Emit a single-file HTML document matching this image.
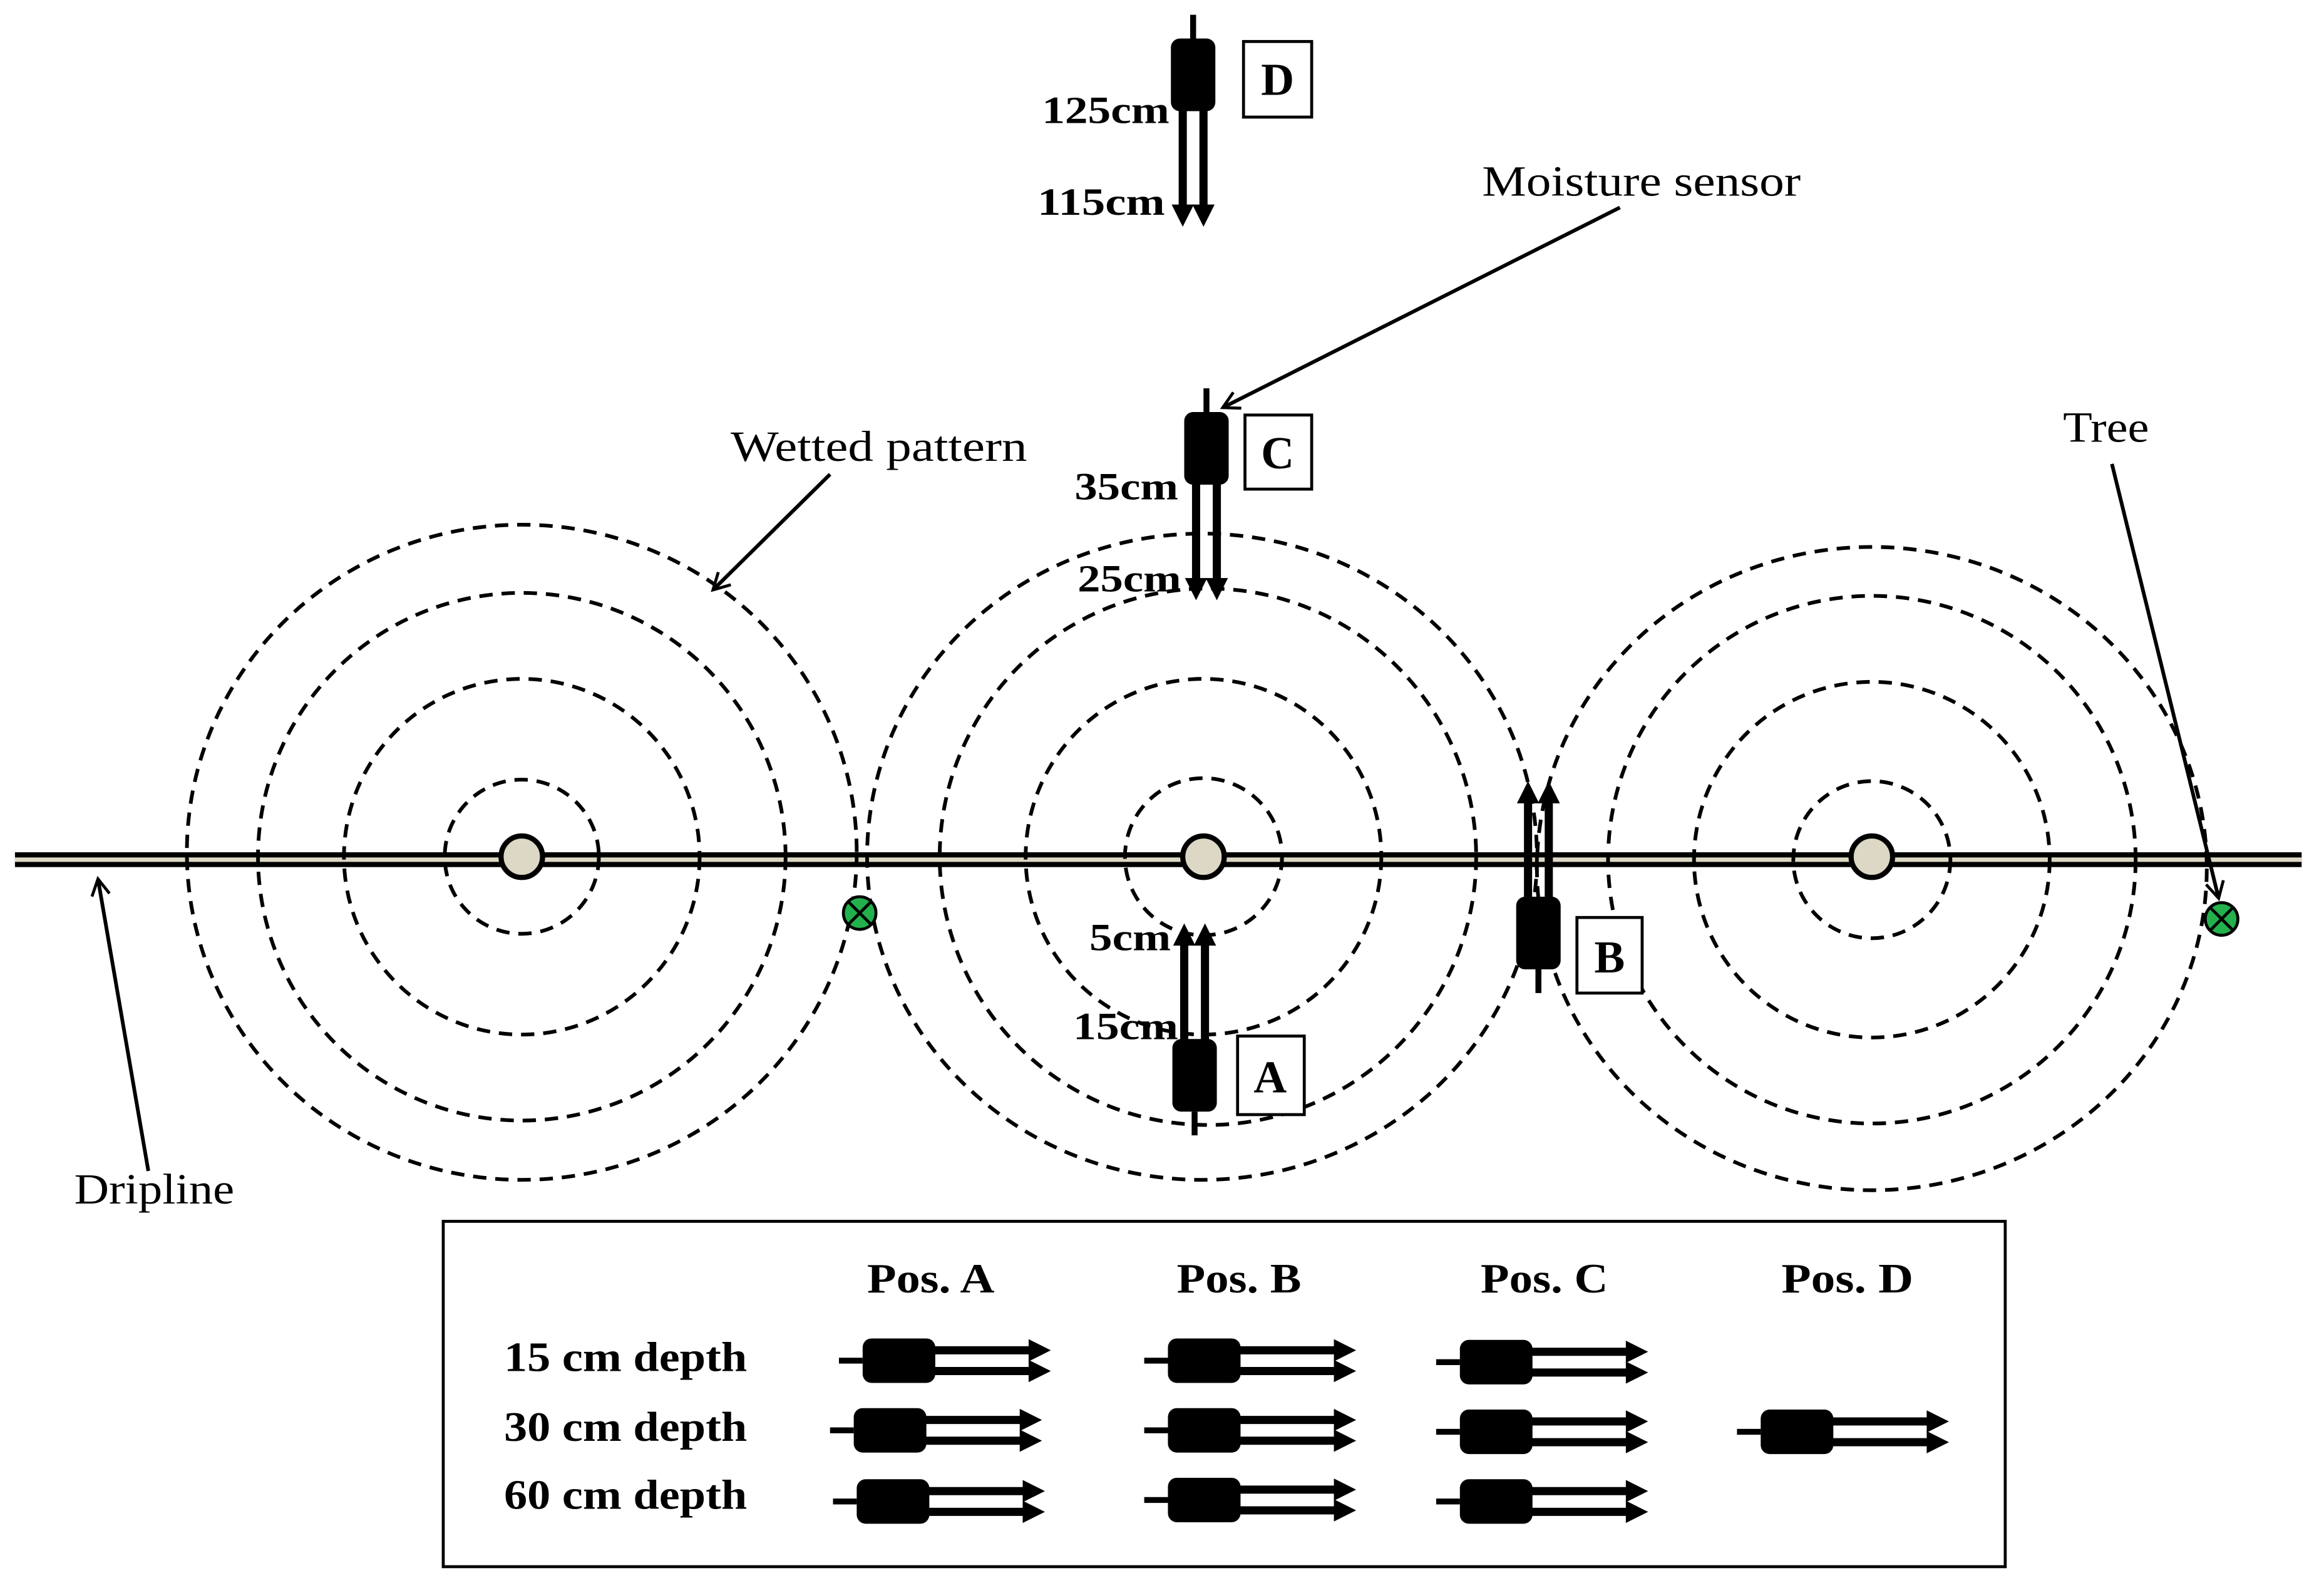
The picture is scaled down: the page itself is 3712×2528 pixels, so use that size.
<!DOCTYPE html>
<html><head><meta charset="utf-8"><style>html,body{margin:0;padding:0;background:#fff}svg{display:block}</style></head><body>
<svg width="3712" height="2528" viewBox="0 0 1568 1068" xmlns="http://www.w3.org/2000/svg" font-family="'Liberation Serif', serif">
<defs>
<g id="s">
<line x1="0" y1="-16" x2="0" y2="0" stroke="#000" stroke-width="4"/>
<rect x="-15" y="0" width="30" height="49" rx="6" fill="#000"/>
<line x1="-7" y1="48" x2="-7" y2="113" stroke="#000" stroke-width="5.5"/>
<line x1="7" y1="48" x2="7" y2="113" stroke="#000" stroke-width="5.5"/>
<polygon points="-14.5,112 0.5,112 -7,127" fill="#000"/>
<polygon points="-0.5,112 14.5,112 7,127" fill="#000"/>
</g>
<marker id="oa" markerWidth="14" markerHeight="14" refX="12" refY="7" orient="auto" markerUnits="userSpaceOnUse"><path d="M1,1 L12,7 L1,13" fill="none" stroke="#000" stroke-width="2"/></marker>
</defs>
<rect width="1568" height="1068" fill="#fff"/>
<rect x="10" y="575" width="1543" height="10" fill="#000"/>
<rect x="10" y="578.5" width="1543" height="3" fill="#ddd8c5"/>
<g fill="none" stroke="#000" stroke-width="2.5" stroke-dasharray="9 6">
<circle cx="352" cy="578" r="52"/><circle cx="352" cy="578" r="120"/><circle cx="352" cy="578" r="178"/><ellipse cx="352" cy="575" rx="226" ry="221"/>
<circle cx="812" cy="578" r="53"/><circle cx="812" cy="578" r="120"/><circle cx="815" cy="578" r="181"/><ellipse cx="811" cy="578" rx="226" ry="218"/>
<circle cx="1263" cy="580" r="53"/><circle cx="1263" cy="580" r="120"/><circle cx="1263" cy="580" r="178"/><ellipse cx="1263" cy="586" rx="226" ry="217"/>
</g>
<g fill="#ddd8c5" stroke="#000" stroke-width="3.5">
<circle cx="352" cy="578" r="14"/><circle cx="812" cy="578" r="14"/><circle cx="1263" cy="578" r="14"/>
</g>
<g stroke="#000" stroke-width="2">
<circle cx="580" cy="616" r="11" fill="#22b14c"/><line x1="572" y1="608" x2="588" y2="624"/><line x1="588" y1="608" x2="572" y2="624"/>
<circle cx="1499" cy="620" r="11" fill="#22b14c"/><line x1="1491" y1="612" x2="1507" y2="628"/><line x1="1507" y1="612" x2="1491" y2="628"/>
</g>
<use href="#s" transform="translate(805,26)"/>
<use href="#s" transform="translate(814,278)"/>
<use href="#s" transform="translate(806,750) rotate(180)"/>
<use href="#s" transform="translate(1038,654) rotate(180)"/>
<g fill="#fff" stroke="#000" stroke-width="2">
<rect x="839" y="28" width="46" height="51"/>
<rect x="840" y="280" width="45" height="50"/>
<rect x="835" y="699" width="45" height="53"/>
<rect x="1064" y="619" width="44" height="51"/>
</g>
<g font-weight="bold" font-size="31" text-anchor="middle" fill="#000">
<text x="862" y="64">D</text><text x="862" y="316">C</text><text x="857" y="737">A</text><text x="1086" y="656">B</text>
</g>
<g font-weight="bold" font-size="26" fill="#000" lengthAdjust="spacingAndGlyphs">
<text x="703" y="83" textLength="86" lengthAdjust="spacingAndGlyphs">125cm</text>
<text x="700" y="145" textLength="86" lengthAdjust="spacingAndGlyphs">115cm</text>
<text x="725" y="337" textLength="70" lengthAdjust="spacingAndGlyphs">35cm</text>
<text x="727" y="399" textLength="70" lengthAdjust="spacingAndGlyphs">25cm</text>
<text x="735" y="641" textLength="55" lengthAdjust="spacingAndGlyphs">5cm</text>
<text x="724" y="701" textLength="71" lengthAdjust="spacingAndGlyphs">15cm</text>
</g>
<g font-size="29" fill="#000">
<text x="1000" y="132" textLength="215" lengthAdjust="spacingAndGlyphs">Moisture sensor</text>
<text x="493" y="311" textLength="200" lengthAdjust="spacingAndGlyphs">Wetted pattern</text>
<text x="1392" y="298" textLength="58" lengthAdjust="spacingAndGlyphs">Tree</text>
<text x="50" y="812" textLength="108" lengthAdjust="spacingAndGlyphs">Dripline</text>
</g>
<g stroke="#000" stroke-width="2.5" fill="none" marker-end="url(#oa)">
<line x1="1093" y1="140" x2="825" y2="275"/>
<line x1="560" y1="320" x2="481" y2="398"/>
<line x1="1425" y1="313" x2="1497" y2="606"/>
<line x1="100" y1="790" x2="66" y2="593"/>
</g>
<rect x="299" y="824" width="1054" height="233" fill="none" stroke="#000" stroke-width="2"/>
<g font-weight="bold" font-size="28" fill="#000">
<text x="585" y="872" textLength="86" lengthAdjust="spacingAndGlyphs">Pos. A</text>
<text x="794" y="872" textLength="84" lengthAdjust="spacingAndGlyphs">Pos. B</text>
<text x="999" y="872" textLength="86" lengthAdjust="spacingAndGlyphs">Pos. C</text>
<text x="1202" y="872" textLength="89" lengthAdjust="spacingAndGlyphs">Pos. D</text>
<text x="340" y="925" textLength="164" lengthAdjust="spacingAndGlyphs">15 cm depth</text>
<text x="340" y="972" textLength="164" lengthAdjust="spacingAndGlyphs">30 cm depth</text>
<text x="340" y="1018" textLength="164" lengthAdjust="spacingAndGlyphs">60 cm depth</text>
</g>
<use href="#s" transform="translate(582,918) rotate(-90)"/>
<use href="#s" transform="translate(576,965) rotate(-90)"/>
<use href="#s" transform="translate(578,1013) rotate(-90)"/>
<use href="#s" transform="translate(788,918) rotate(-90)"/>
<use href="#s" transform="translate(788,965) rotate(-90)"/>
<use href="#s" transform="translate(788,1012) rotate(-90)"/>
<use href="#s" transform="translate(985,919) rotate(-90)"/>
<use href="#s" transform="translate(985,966) rotate(-90)"/>
<use href="#s" transform="translate(985,1013) rotate(-90)"/>
<use href="#s" transform="translate(1188,966) rotate(-90)"/>
</svg>
</body></html>
